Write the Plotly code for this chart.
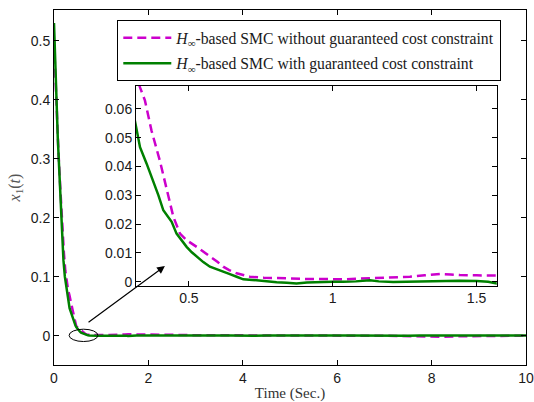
import plotly.graph_objects as go

# ---- data ----
t_green_early = [0, 0.02, 0.05, 0.08, 0.106, 0.13, 0.157, 0.18, 0.2, 0.23, 0.26, 0.29, 0.316,
                 0.33, 0.353, 0.376, 0.394, 0.411, 0.425, 0.44, 0.457, 0.475, 0.492, 0.51, 0.527,
                 0.55, 0.573, 0.6, 0.619, 0.64, 0.666, 0.689, 0.72, 0.747, 0.78, 0.805, 0.84,
                 0.874, 0.91, 0.944, 1.0, 1.036, 1.08, 1.129, 1.16, 1.21, 1.26, 1.326, 1.384,
                 1.44, 1.5, 1.54, 1.57, 1.6]
green_early = [0.53, 0.47, 0.40, 0.335, 0.29, 0.24, 0.19, 0.155, 0.128, 0.1, 0.083, 0.068, 0.0548,
               0.0467, 0.041, 0.0352, 0.030, 0.0248, 0.0228, 0.0208, 0.0167, 0.0142, 0.0121, 0.0102, 0.0087,
               0.0068, 0.0052, 0.0043, 0.0035, 0.0027, 0.0017, 0.0008, 0.0006, 0.0003, 0.0, -0.0002, -0.0004,
               -0.0006, -0.0003, -0.0001, 0.0, 0.0, 0.0001, 0.0005, 0.0001, -0.0001, 0.0, 0.0, 0.0003,
               0.0003, 0.0002, 0.0, -0.0006, -0.0004]

t_mag_early = [0, 0.03, 0.06, 0.09, 0.12, 0.15, 0.18, 0.21, 0.24, 0.27, 0.3, 0.33, 0.347, 0.37,
               0.399, 0.422, 0.446, 0.469, 0.492, 0.527, 0.55, 0.573, 0.6, 0.619, 0.64, 0.666, 0.69,
               0.712, 0.76, 0.805, 0.86, 0.921, 0.98, 1.036, 1.08, 1.129, 1.17, 1.21, 1.268, 1.32,
               1.373, 1.41, 1.442, 1.5, 1.57, 1.6]
mag_early = [0.50, 0.43, 0.37, 0.32, 0.27, 0.22, 0.175, 0.14, 0.11, 0.09, 0.077, 0.0675, 0.063, 0.0525,
             0.042, 0.0329, 0.0225, 0.0167, 0.0144, 0.0121, 0.0105, 0.0087, 0.0068, 0.0052, 0.004, 0.0029, 0.0022,
             0.0017, 0.0014, 0.0012, 0.0010, 0.0009, 0.0009, 0.0008, 0.0010, 0.0012, 0.0013, 0.0015, 0.0017, 0.0022,
             0.0027, 0.0025, 0.0023, 0.0022, 0.0023, 0.0023]

t_late = [1.75, 2.0, 2.25, 2.5, 2.75, 3.0, 3.25, 3.5, 3.75, 4.0, 4.25, 4.5, 4.75, 5.0, 5.25, 5.5,
          5.75, 6.0, 6.25, 6.5, 6.75, 7.0, 7.25, 7.5, 7.75, 8.0, 8.25, 8.5, 8.75, 9.0, 9.25, 9.5,
          9.75, 10.0]
green_late = [0.0002, 0.0001, -0.0003, 0.0002, 0.0004, 0.0000, -0.0002, 0.0003, 0.0001, -0.0004,
              -0.0002, 0.0001, 0.0003, -0.0001, -0.0003, 0.0000, 0.0002, 0.0005, 0.0001, -0.0002,
              0.0000, 0.0003, -0.0001, -0.0003, 0.0001, 0.0002, -0.0002, 0.0000, 0.0003, 0.0004,
              0.0001, -0.0001, 0.0002, 0.0001]
mag_late = [0.0022, 0.0018, 0.0012, 0.0015, 0.0010, 0.0008, 0.0012, 0.0006, 0.0009, 0.0004,
            0.0007, 0.0003, 0.0005, 0.0002, 0.0004, 0.0001, 0.0003, 0.0000, 0.0002, -0.0001,
            0.0001, -0.0004, -0.0002, -0.0008, -0.0015, -0.0022, -0.0018, -0.0012, -0.0010, -0.0006,
            -0.0004, -0.0002, 0.0000, 0.0001]

main_xticks = [0, 2, 4, 6, 8, 10]
main_yticks = [0, 0.1, 0.2, 0.3, 0.4, 0.5]
inset_xticks = [0.5, 1, 1.5]
inset_xlabels = ["0.5", "1", "1.5"]
inset_yticks = [0, 0.01, 0.02, 0.03, 0.04, 0.05, 0.06]
inset_ylabels = ["0", "0.01", "0.02", "0.03", "0.04", "0.05", "0.06"]

name_mag = "<i>H</i><sub>∞</sub>-based SMC without guaranteed cost constraint"
name_green = "<i>H</i><sub>∞</sub>-based SMC with guaranteed cost constraint"

t_green = t_green_early + t_late
y_green = green_early + green_late
t_mag = t_mag_early + t_late
y_mag = mag_early + mag_late

MAG = "#cc00cc"
GRN = "#008000"
SANS = "Liberation Sans, Arial, sans-serif"
SERIF = "Liberation Serif, Times New Roman, serif"

fig = go.Figure()
fig.add_trace(go.Scatter(x=t_mag, y=y_mag, mode="lines", name=name_mag, legendgroup="a",
                         line=dict(color=MAG, width=2.5, dash="9px,5px"), xaxis="x", yaxis="y"))
fig.add_trace(go.Scatter(x=t_green, y=y_green, mode="lines", name=name_green, legendgroup="b",
                         line=dict(color=GRN, width=2.5), xaxis="x", yaxis="y"))
fig.add_trace(go.Scatter(x=t_mag, y=y_mag, mode="lines", showlegend=False,
                         line=dict(color=MAG, width=2.5, dash="9px,5px"), xaxis="x2", yaxis="y2"))
fig.add_trace(go.Scatter(x=t_green, y=y_green, mode="lines", showlegend=False,
                         line=dict(color=GRN, width=2.5), xaxis="x2", yaxis="y2"))

axcommon = dict(showline=True, linecolor="black", linewidth=1, mirror="ticks", ticks="inside",
                ticklen=5, tickcolor="black", showgrid=False, zeroline=False, automargin=False,
                tickfont=dict(family=SANS, size=14, color="#1a1a1a"))

fig.update_layout(
    width=534, height=402,
    margin=dict(l=54, r=8, t=10, b=37),
    paper_bgcolor="white", plot_bgcolor="white",
    xaxis=dict(domain=[0, 1], range=[0, 10], tickvals=main_xticks, anchor="y",
               title=dict(text="Time (Sec.)", font=dict(family=SERIF, size=15, color="#333333"), standoff=3),
               **axcommon),
    yaxis=dict(domain=[0, 1], range=[-0.0497, 0.552], tickvals=main_yticks, anchor="x",
               title=dict(text="<i>x</i><sub>1</sub>(<i>t</i>)", font=dict(family=SERIF, size=16, color="#555555"), standoff=6),
               **axcommon),
    xaxis2=dict(domain=[0.1737, 0.938], range=[0.316, 1.57], tickvals=inset_xticks, ticktext=inset_xlabels,
                anchor="y2", **axcommon),
    yaxis2=dict(domain=[0.2234, 0.7868], range=[-0.0014, 0.0681], tickvals=inset_yticks, ticktext=inset_ylabels,
                anchor="x2", **axcommon),
    showlegend=True,
    legend=dict(x=0.1341, y=0.9718, xanchor="left", yanchor="top", bgcolor="white",
                bordercolor="black", borderwidth=1, tracegroupgap=2, itemwidth=48,
                font=dict(family=SERIF, size=15.7, color="#1a1a1a")),
    shapes=[dict(type="circle", xref="x", yref="y", x0=0.32, x1=0.93, y0=-0.0099, y1=0.011,
                 line=dict(color="black", width=1))],
    annotations=[dict(x=2.35, y=0.118, ax=0.70, ay=0.021, xref="x", yref="y", axref="x", ayref="y",
                      text="", showarrow=True, arrowhead=2, arrowsize=1.3, arrowwidth=1.2,
                      arrowcolor="black")],
)

fig.write_html("out.html", config={"displayModeBar": False},
               post_script="document.body.style.margin='0px';")
